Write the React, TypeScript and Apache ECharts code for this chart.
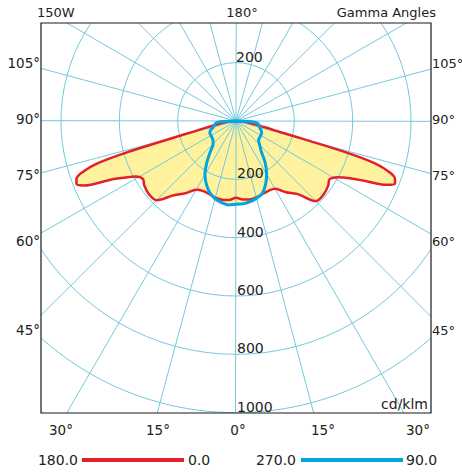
import React, { useEffect, useRef } from "react";
import * as echarts from "echarts";

// ---------- data ----------
// gamma angles (deg from nadir) for the C0-C180 plane (red)
const GAMMA_RED = [0, 5, 10, 15, 20, 25, 30, 35, 40, 45, 50, 55, 58, 61, 63, 65, 67, 68.5, 70, 71.5, 73, 74, 75, 76, 77.5, 80, 85, 90];
// intensities cd/klm, C0 (right side) and C180 (left side)
const RED_C0 = [263, 270, 273, 271, 266, 264, 268, 298, 326, 388, 392, 386, 378, 398, 430, 485, 560, 586, 580, 556, 500, 400, 240, 155, 108, 62, 25, 0];
const RED_C180 = [263, 272, 274, 272, 267, 265, 272, 302, 332, 384, 390, 384, 376, 393, 428, 478, 566, 588, 582, 558, 495, 380, 225, 150, 105, 60, 25, 0];

// gamma angles for the C90-C270 plane (blue)
const GAMMA_BLUE = [0, 5, 10, 15, 20, 25, 30, 35, 40, 45, 50, 55, 60, 65, 70, 75, 80, 85, 88, 90];
const BLUE_C90 = [285, 285, 281, 274, 264, 240, 210, 174, 134, 114, 101, 99, 98, 97, 91, 84, 81, 70, 45, 0];
const BLUE_C270 = [285, 289, 284, 276, 262, 240, 213, 175, 137, 111, 103, 100, 99, 99, 93, 80, 74, 67, 45, 0];

const ANGLE_STEP = 15; // radial grid every 15 degrees
const RADIUS_STEP = 200;
const RADIUS_TICKS = [200, 400, 600, 800, 1000];
const TOP_RADIUS_TICK = 200;
const SIDE_LABELS = ["105°", "90°", "75°", "60°", "45°"];
const BOTTOM_LABELS = ["30°", "15°", "0°", "15°", "30°"];
const TOP_LABEL = "180°";
const TITLE = "150W";
const AXIS_TITLE = "Gamma Angles";
const UNIT = "cd/klm";
const LEGEND_RED = ["180.0", "0.0"];
const LEGEND_BLUE = ["270.0", "90.0"];

// ---------- layout ----------
const W = 462;
const H = 476;
const CX = 236;
const CY = 121;
const PX_PER_CD = 0.2917;
const R_MAX = 1250;
const GRID_NUDGE = 0.1; // tiny angular nudge so no grid line is an exact diagonal (renderer artefact)
const BOX = { x: 41, y: 23, w: 390, h: 390 };
const SIDE_Y = [63, 119, 175, 241, 330];
const BOTTOM_X = [61, 158, 238, 323, 418];
const LEGEND_Y = 460;

const GRID = "#74C9DC";
const RED = "#E3202A";
const BLUE = "#00A6E2";
const YELLOW = "#FFF29E";
const TEXT = "#222";
const FONT = "DejaVu Sans";

function loop(gammas: number[], right: number[], left: number[]) {
  const pts: number[][] = [];
  for (let i = gammas.length - 1; i >= 1; i--) pts.push([right[i], 360 - gammas[i]]);
  pts.push([right[0], 0]);
  for (let i = 1; i < gammas.length; i++) pts.push([left[i], gammas[i]]);
  return pts;
}

function radialGrid() {
  const d: any[] = [];
  for (let a = 0; a < 360; a += ANGLE_STEP) d.push([0, a + GRID_NUDGE], [R_MAX, a + GRID_NUDGE], "-");
  return d;
}

function txt(text: string, x: number, y: number, align: string, vAlign = "middle", size = 14) {
  return {
    type: "text",
    z: 60,
    x,
    y,
    style: { text, fill: TEXT, font: `${size}px "${FONT}"`, textAlign: align, textVerticalAlign: vAlign },
  };
}

const hiddenAxisParts = {
  axisLine: { show: false },
  axisTick: { show: false },
  axisLabel: { show: false },
};

export default function App() {
  const ref = useRef<HTMLDivElement>(null);
  useEffect(() => {
    if (!ref.current) return;
    const chart = echarts.init(ref.current, null, { renderer: "svg" });
    const redPts = loop(GAMMA_RED, RED_C0, RED_C180);
    const bluePts = loop(GAMMA_BLUE, BLUE_C90, BLUE_C270);

    const graphic: any[] = [
      // masks outside the frame
      { type: "rect", z: 50, shape: { x: 0, y: 0, width: W, height: BOX.y }, style: { fill: "#fff" } },
      { type: "rect", z: 50, shape: { x: 0, y: 0, width: BOX.x, height: H }, style: { fill: "#fff" } },
      { type: "rect", z: 50, shape: { x: BOX.x + BOX.w, y: 0, width: W - BOX.x - BOX.w, height: H }, style: { fill: "#fff" } },
      { type: "rect", z: 50, shape: { x: 0, y: BOX.y + BOX.h, width: W, height: H - BOX.y - BOX.h }, style: { fill: "#fff" } },
      { type: "rect", z: 55, shape: { x: BOX.x, y: BOX.y, width: BOX.w, height: BOX.h }, style: { fill: "none", stroke: "#1a1a1a", lineWidth: 1.2 } },
      txt(TITLE, 37, 12, "left", "middle", 13),
      txt(TOP_LABEL, 242, 12, "center", "middle", 13),
      txt(AXIS_TITLE, 436, 12, "right", "middle", 13),
      txt(UNIT, 428, 404, "right"),
      // radius labels
      txt(String(TOP_RADIUS_TICK), 236, CY - TOP_RADIUS_TICK * PX_PER_CD + 1, "left", "bottom", 14),
      ...RADIUS_TICKS.map((r) => txt(String(r), 237, CY + r * PX_PER_CD + 1, "left", "bottom", 14)),
      ...SIDE_LABELS.map((s, i) => txt(s, 40, SIDE_Y[i], "right", "middle", 13.5)),
      ...SIDE_LABELS.map((s, i) => txt(s, 432, SIDE_Y[i], "left", "middle", 13)),
      ...BOTTOM_LABELS.map((s, i) => txt(s, BOTTOM_X[i], 430, "center", "middle", 13.5)),
      // legend
      txt(LEGEND_RED[0], 78, LEGEND_Y, "right"),
      { type: "line", z: 60, shape: { x1: 82, y1: LEGEND_Y, x2: 184, y2: LEGEND_Y }, style: { stroke: RED, lineWidth: 4 } },
      txt(LEGEND_RED[1], 188, LEGEND_Y, "left"),
      txt(LEGEND_BLUE[0], 296, LEGEND_Y, "right"),
      { type: "line", z: 60, shape: { x1: 301, y1: LEGEND_Y, x2: 403, y2: LEGEND_Y }, style: { stroke: BLUE, lineWidth: 4 } },
      txt(LEGEND_BLUE[1], 406, LEGEND_Y, "left"),
    ];

    chart.setOption({
      animation: false,
      polar: { center: [CX, CY], radius: R_MAX * PX_PER_CD },
      angleAxis: {
        type: "value", min: 0, max: 360, interval: ANGLE_STEP, startAngle: 270, clockwise: true,
        ...hiddenAxisParts,
        splitLine: { show: false },
      },
      radiusAxis: {
        type: "value", min: 0, max: R_MAX, interval: RADIUS_STEP,
        ...hiddenAxisParts,
        splitLine: { show: true, showMinLine: false, showMaxLine: false, lineStyle: { color: GRID, width: 1 } },
        z: 3,
      },
      series: [
        { type: "line", coordinateSystem: "polar", data: redPts, smooth: 0.35, showSymbol: false, silent: true,
          lineStyle: { width: 0, opacity: 0 }, areaStyle: { color: YELLOW, opacity: 1 }, z: 1 },
        { type: "line", coordinateSystem: "polar", data: bluePts, smooth: 0.35, showSymbol: false, silent: true,
          lineStyle: { width: 0, opacity: 0 }, areaStyle: { color: YELLOW, opacity: 1 }, z: 1 },
        { type: "line", coordinateSystem: "polar", data: radialGrid(), showSymbol: false, silent: true, connectNulls: false,
          lineStyle: { color: GRID, width: 1 }, itemStyle: { color: GRID }, z: 3 },
        { type: "line", coordinateSystem: "polar", data: redPts, smooth: 0.35, showSymbol: false, silent: true,
          lineStyle: { color: RED, width: 2.5 }, itemStyle: { color: RED }, z: 5 },
        { type: "line", coordinateSystem: "polar", data: bluePts, smooth: 0.35, showSymbol: false, silent: true,
          lineStyle: { color: BLUE, width: 3 }, itemStyle: { color: BLUE }, z: 6 },
      ],
      graphic,
    });
    return () => chart.dispose();
  }, []);
  return <div ref={ref} style={{ position: "absolute", left: 0, top: 0, width: W, height: H }} />;
}
